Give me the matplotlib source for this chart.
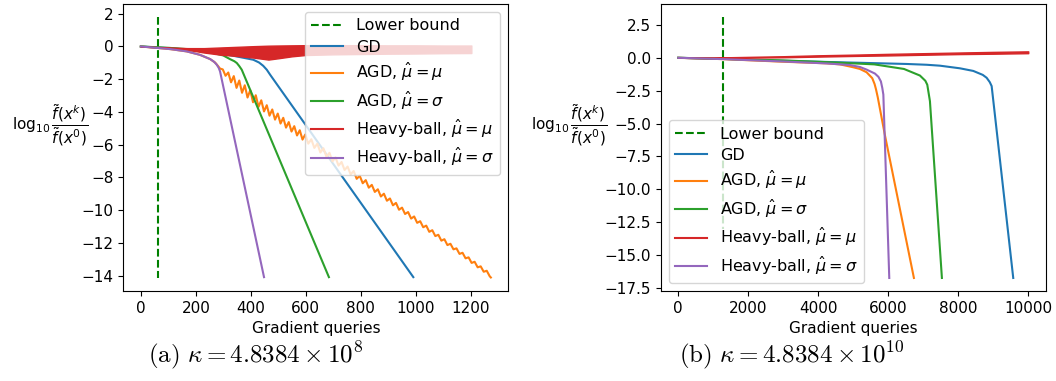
import matplotlib
matplotlib.use('Agg')
import matplotlib.pyplot as plt

plt.rcParams['font.size'] = 11

labels = ['Lower bound', 'GD', r'AGD, $\hat{\mu}=\mu$', r'AGD, $\hat{\mu}=\sigma$',
          r'Heavy-ball, $\hat{\mu}=\mu$', r'Heavy-ball, $\hat{\mu}=\sigma$']

# ---- panel (a): kappa = 4.8384e8 ----
lb_a_x = [63, 63]
lb_a_y = [1.8, -14.15]

gd_a_x = [0, 120, 227, 300, 349, 409, 430, 445, 458, 470, 991]
gd_a_y = [0, -0.12, -0.3, -0.45, -0.61, -0.81, -0.98, -1.18, -1.42, -1.72, -14.1]

agd_mu_a_x = [0, 107, 167, 215, 252, 270, 280, 288,
              298, 308, 318, 328, 338, 348, 358, 368, 378, 388, 398, 408, 418, 428, 438, 448,
              458, 468, 478, 488, 498, 508, 518, 528, 538, 548, 558, 568, 578, 588, 598,
              609, 620, 631, 642, 653, 664, 675, 686, 697, 708, 719, 730, 741, 752, 763, 774,
              785, 796, 807, 818, 829, 840, 851, 862, 873, 884, 895, 906, 917, 928, 939, 950,
              961, 972, 983, 994, 1005, 1016, 1027, 1038, 1049, 1060, 1071, 1082, 1093, 1104,
              1115, 1126, 1137, 1148, 1159, 1170, 1181, 1192, 1203, 1214, 1225, 1236, 1247,
              1258, 1269, 1273]
agd_mu_a_y = [0, -0.16, -0.3, -0.51, -0.77, -0.98, -1.18, -1.35,
              -1.40, -1.79, -1.59, -2.19, -1.81, -2.53, -2.08, -2.83, -2.37, -3.12, -2.67, -3.41,
              -2.98, -3.69, -3.29, -3.97,
              -3.59, -4.23, -3.85, -4.47, -4.10, -4.71, -4.36, -4.96, -4.62, -5.20, -4.87, -5.44,
              -5.12, -5.69, -5.38,
              -5.94, -5.67, -6.20, -5.94, -6.48, -6.22, -6.74, -6.50, -7.02, -6.78, -7.28, -7.06,
              -7.55, -7.34, -7.82, -7.61,
              -8.09, -7.90, -8.36, -8.17, -8.63, -8.46, -8.89, -8.73, -9.17, -9.00, -9.43, -9.29,
              -9.71, -9.56, -9.98, -9.85,
              -10.24, -10.12, -10.52, -10.39, -10.78, -10.68, -11.05, -10.95, -11.33, -11.23,
              -11.59, -11.51, -11.87, -11.78,
              -12.14, -12.06, -12.40, -12.34, -12.68, -12.61, -12.95, -12.89, -13.23, -13.16,
              -13.50, -13.44, -13.77,
              -13.71, -14.05, -14.12]

agd_sig_a_x = [0, 100, 167, 264, 300, 324, 340, 349, 358, 367, 684]
agd_sig_a_y = [0, -0.08, -0.16, -0.4, -0.55, -0.77, -0.9, -1.01, -1.2, -1.42, -14.1]

# heavy-ball (mu) oscillates every step: keep its envelope
hb_mu_a_x = [0, 60, 120, 170, 230, 290, 350, 410, 464, 500, 550, 600, 700, 800, 900, 1000, 1100, 1202]
hb_mu_a_hi = [0, -0.03, -0.07, -0.1, -0.1, -0.06, -0.02, 0.02, 0.05, 0.06, 0.07, 0.08, 0.08,
              0.08, 0.07, 0.07, 0.06, 0.06]
hb_mu_a_lo = [0, -0.05, -0.12, -0.2, -0.37, -0.5, -0.58, -0.68, -0.8, -0.72, -0.6, -0.52, -0.48,
              -0.46, -0.44, -0.43, -0.41, -0.4]

hb_sig_a_x = [0, 107, 167, 215, 252, 266, 276, 283, 288, 448]
hb_sig_a_y = [0, -0.16, -0.3, -0.51, -0.77, -0.93, -1.11, -1.3, -1.52, -14.1]

# ---- panel (b): kappa = 4.8384e10 ----
lb_b_x = [1268, 1268]
lb_b_y = [3.1, -13.05]

gd_b_x = [0, 1268, 2334, 4000, 5190, 6526, 7096, 7477, 8048, 8430, 8700, 8811, 8900, 8954, 9020, 9571]
gd_b_y = [0, -0.08, -0.18, -0.3, -0.38, -0.47, -0.53, -0.6, -0.8, -1.0, -1.3, -1.52, -1.85,
          -2.15, -3.7, -16.75]

agd_mu_b_x = [0, 1268, 3000, 4240, 4619, 5000, 5190, 5381, 5543, 5610, 5650, 5700, 5906, 6733]
agd_mu_b_y = [0, -0.1, -0.3, -0.42, -0.5, -0.72, -0.85, -1.1, -1.55, -2.0, -2.4, -3.0, -5.9, -16.75]

agd_sig_b_x = [0, 1268, 3000, 4240, 5600, 6450, 6905, 7060, 7115, 7191, 7533]
agd_sig_b_y = [0, -0.08, -0.2, -0.33, -0.5, -0.85, -1.35, -1.75, -2.05, -3.3, -16.75]

hb_mu_b_x = [0, 1000, 2000, 3000, 4000, 5000, 6000, 7000, 8000, 9000, 10000]
hb_mu_b_hi = [0, 0.02, 0.07, 0.12, 0.19, 0.24, 0.3, 0.35, 0.4, 0.45, 0.49]
hb_mu_b_lo = [0, -0.02, 0.01, 0.04, 0.09, 0.14, 0.18, 0.23, 0.28, 0.31, 0.35]

hb_sig_b_x = [0, 1268, 3000, 4240, 4906, 5190, 5383, 5620, 5720, 5790, 5830, 5860, 6029]
hb_sig_b_y = [0, -0.1, -0.28, -0.43, -0.55, -0.7, -0.9, -1.2, -1.45, -1.8, -2.3, -2.8, -16.75]


def draw(ax, lb, gd, agd_mu, agd_sig, hb_mu, hb_sig, legend_loc):
    ax.plot(lb[0], lb[1], 'g--', label=labels[0])
    ax.plot(gd[0], gd[1], color='C0', label=labels[1])
    ax.plot(agd_mu[0], agd_mu[1], color='C1', label=labels[2])
    ax.plot(agd_sig[0], agd_sig[1], color='C2', label=labels[3])
    ax.fill_between(hb_mu[0], hb_mu[2], hb_mu[1], color='C3', lw=1, zorder=2)
    ax.plot([], [], color='C3', label=labels[4])
    ax.plot(hb_sig[0], hb_sig[1], color='C4', label=labels[5])
    ax.set_xlabel('Gradient queries')
    ax.set_ylabel(r'$\log_{10}\dfrac{\tilde{f}(x^k)}{\tilde{f}(x^0)}$', rotation=0,
                  ha='right', va='bottom')
    ax.legend(loc=legend_loc, fontsize=11.5, labelspacing=0.4)


fig = plt.figure(figsize=(10.56, 3.81), dpi=100)
ax1 = fig.add_axes([0.1168, 0.2362, 0.3646, 0.7533])
ax2 = fig.add_axes([0.6257, 0.2362, 0.3646, 0.7533])

draw(ax1, (lb_a_x, lb_a_y), (gd_a_x, gd_a_y), (agd_mu_a_x, agd_mu_a_y),
     (agd_sig_a_x, agd_sig_a_y), (hb_mu_a_x, hb_mu_a_hi, hb_mu_a_lo),
     (hb_sig_a_x, hb_sig_a_y), 'upper right')
draw(ax2, (lb_b_x, lb_b_y), (gd_b_x, gd_b_y), (agd_mu_b_x, agd_mu_b_y),
     (agd_sig_b_x, agd_sig_b_y), (hb_mu_b_x, hb_mu_b_hi, hb_mu_b_lo),
     (hb_sig_b_x, hb_sig_b_y), 'lower left')
ax1.yaxis.set_label_coords(-0.091, 0.5)
ax2.yaxis.set_label_coords(-0.14, 0.5)

fig.text(0.242, 0.068, r'$\mathrm{(a)}\ \kappa = 4.8384\times10^{8}$', ha='center', va='center',
         fontsize=18, math_fontfamily='cm')
fig.text(0.75, 0.068, r'$\mathrm{(b)}\ \kappa = 4.8384\times10^{10}$', ha='center', va='center',
         fontsize=18, math_fontfamily='cm')

fig.savefig('out.png', dpi=100)
